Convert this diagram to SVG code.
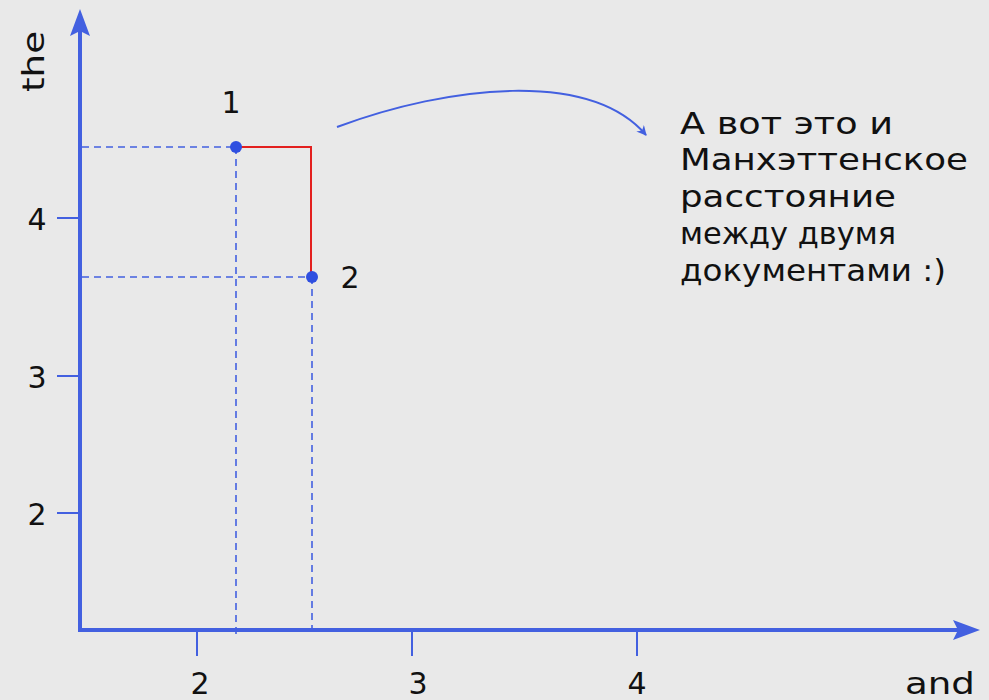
<svg xmlns="http://www.w3.org/2000/svg" width="989" height="700" viewBox="0 0 989 700">
<style>
.ax{stroke:#4360e0;stroke-width:4;fill:none}
.tk{stroke:#4360e0;stroke-width:2;fill:none}
.dash{stroke:#4360e0;stroke-width:1.6;stroke-dasharray:7 5;fill:none}
.lbl{font-family:"DejaVu Sans","Liberation Sans",sans-serif;font-size:30px;fill:#111}
.note{font-family:"DejaVu Sans","Liberation Sans",sans-serif;font-size:31px;fill:#111}
</style>
<defs>
<marker id="ah" viewBox="0 0 10 10" refX="9" refY="5" markerWidth="10" markerHeight="10" orient="auto" markerUnits="userSpaceOnUse">
<path d="M0,0 L10,5 L0,10 L3,5 z" fill="#4360e0"/>
</marker>
</defs>
<rect width="989" height="700" fill="#e9e9e9"/>
<g id="axes">
<line class="ax" x1="80" y1="632" x2="80" y2="30"/>
<path d="M80,9 L90,36 L80,31 L70,36 z" fill="#4360e0"/>
<line class="ax" x1="78" y1="630" x2="960" y2="630"/>
<path d="M980,630 L953,640 L958,630 L953,620 z" fill="#4360e0"/>
<line class="tk" x1="197" y1="630" x2="197" y2="656"/>
<line class="tk" x1="412" y1="630" x2="412" y2="656"/>
<line class="tk" x1="637" y1="630" x2="637" y2="656"/>
<line class="tk" x1="57" y1="218" x2="80" y2="218"/>
<line class="tk" x1="57" y1="376" x2="80" y2="376"/>
<line class="tk" x1="57" y1="513" x2="80" y2="513"/>
<text class="lbl" x="200" y="694" text-anchor="middle">2</text>
<text class="lbl" x="418" y="694" text-anchor="middle">3</text>
<text class="lbl" x="637" y="694" text-anchor="middle">4</text>
<text class="lbl" x="905" y="694" textLength="70" lengthAdjust="spacingAndGlyphs">and</text>
<text class="lbl" x="37" y="230" text-anchor="middle">4</text>
<text class="lbl" x="37" y="388" text-anchor="middle">3</text>
<text class="lbl" x="37" y="525" text-anchor="middle">2</text>
<text class="lbl" transform="translate(44,92) rotate(-90)" textLength="61" lengthAdjust="spacingAndGlyphs">the</text>
</g>
<g id="connectors">
<line class="dash" x1="82" y1="147" x2="236" y2="147"/>
<line class="dash" x1="82" y1="277" x2="312" y2="277"/>
<line class="dash" x1="236" y1="147" x2="236" y2="636"/>
<line class="dash" x1="312" y1="277" x2="312" y2="628"/>
<path d="M236,147 L311,147 L311,277" stroke="#e3201f" stroke-width="2" fill="none"/>
<path d="M337,127 C450,85 590,70 646,135" stroke="#4360e0" stroke-width="2" fill="none" marker-end="url(#ah)"/>
</g>
<g id="point1">
<circle cx="236" cy="147" r="6" fill="#2f4fe0"/>
<text class="lbl" x="231" y="113" text-anchor="middle">1</text>
</g>
<g id="point2">
<circle cx="312" cy="277" r="6" fill="#2f4fe0"/>
<text class="lbl" x="350" y="288" text-anchor="middle">2</text>
</g>
<g id="note">
<text class="note" x="680" y="134" textLength="213" lengthAdjust="spacingAndGlyphs">А вот это и</text>
<text class="note" x="680" y="170" textLength="288" lengthAdjust="spacingAndGlyphs">Манхэттенское</text>
<text class="note" x="680" y="207" textLength="216" lengthAdjust="spacingAndGlyphs">расстояние</text>
<text class="note" x="680" y="244" textLength="216" lengthAdjust="spacingAndGlyphs">между двумя</text>
<text class="note" x="680" y="281" textLength="266" lengthAdjust="spacingAndGlyphs">документами :)</text>
</g>
</svg>
